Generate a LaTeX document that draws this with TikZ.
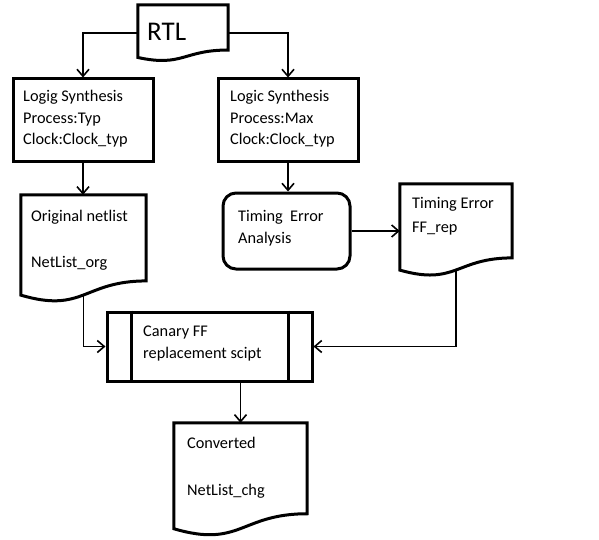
\documentclass[tikz,border=0pt]{standalone}
\usepackage{fontspec}
\setmainfont{Carlito}
\usetikzlibrary{arrows.meta,calc}
\tikzset{
  boxline/.style={line width=3pt, line join=miter},
  shapebox/.style={draw, boxline, rectangle, inner sep=0pt},
  docbox/.style={rectangle, inner sep=0pt},
  % multi-line texts are placed by the baseline of their last line
  txt/.style={font=\fontsize{16.3}{21.5}\selectfont, inner sep=0pt, anchor=base west, align=left},
  arr/.style={line width=1.6pt, -{Straight Barb[length=7pt,width=12pt]}}
}
% outline of a flowchart "document" shape with a wavy lower edge
\newcommand\docoutline[1]{%
  \draw[boxline] (#1.north west) -- (#1.north east)
    -- ($(#1.north east)!0.802!(#1.south east)$)
    .. controls ($(#1.north)!0.802!(#1.south)$) and ($(#1.north)!1.107!(#1.south)$)
    .. ($(#1.north west)!0.934!(#1.south west)$) -- cycle;}
\begin{document}
\begin{tikzpicture}[x=1pt,y=-1pt]
\useasboundingbox (0,0) rectangle (599,540);
\fill[white] (0,0) rectangle (599,540);

% source
\node[docbox, minimum width=90pt, minimum height=56pt] (rtl) at (183,33) {};
\docoutline{rtl}
\node[txt, font=\fontsize{27}{32}\selectfont] (rtlT) at (147,40.5) {RTL};

% two synthesis runs
\node[shapebox, minimum width=140pt, minimum height=83pt] (synA) at (83,120.5) {};
\node[txt] (synAT) at (23,145) {Logig Synthesis\\Process:Typ\\Clock:Clock\_typ};
\node[shapebox, minimum width=140pt, minimum height=83pt] (synB) at (288,120.5) {};
\node[txt] (synBT) at (230,145) {Logic Synthesis\\Process:Max\\Clock:Clock\_typ};

% original netlist
\node[docbox, minimum width=125pt, minimum height=107pt] (orig) at (83.5,248.5) {};
\docoutline{orig}
\node[txt] (origT) at (31,267) {Original netlist\\[24.5pt]NetList\_org};

% timing analysis and its report
\node[shapebox, rounded corners=13pt, minimum width=127pt, minimum height=76pt] (tea) at (286.5,231) {};
\node[txt] (teaT) at (238,243) {Timing\ \ Error\\Analysis};
\node[docbox, minimum width=112pt, minimum height=92pt] (ferr) at (456,230) {};
\docoutline{ferr}
\node[txt] (ferrT) at (412,232) {Timing Error\\[2.5pt]FF\_rep};

% replacement script (predefined process)
\node[shapebox, minimum width=205pt, minimum height=69pt] (canary) at (209.5,346.5) {};
\draw[boxline] ($(canary.north west)+(26,0)$) -- ($(canary.south west)+(26,0)$);
\draw[boxline] ($(canary.north east)+(-25,0)$) -- ($(canary.south east)+(-25,0)$);
\node[txt] (canT) at (143,358) {Canary FF\\replacement scipt};

% converted netlist
\node[docbox, minimum width=133pt, minimum height=113pt] (conv) at (240.5,479.5) {};
\docoutline{conv}
\node[txt] (convT) at (187,495) {Converted\\[25.5pt]NetList\_chg};

% connectors
\coordinate (origB) at ($(orig.north)!0.933!(orig.south)$);
\coordinate (ferrB) at ($(ferr.north)!0.933!(ferr.south)$);
\draw[arr] (rtl.west) -| (synA.north);
\draw[arr] (rtl.east) -| (synB.north);
\draw[arr] (synA.south) -- (synA.south |- orig.north);
\draw[arr] (synB.south) -- (synB.south |- tea.north);
\draw[arr] (tea.east) -- (tea.east -| ferr.west);
\draw[arr] (origB) |- (canary.west);
\draw[arr] (ferrB) |- (canary.east);
\draw[arr] (canary.south -| conv.north) -- (conv.north);
\end{tikzpicture}
\end{document}
